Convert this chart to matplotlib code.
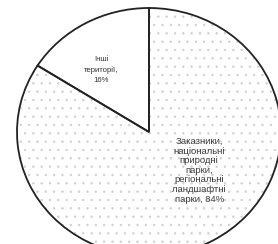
import matplotlib.pyplot as plt

# share of territories, %
labels = ['Інші\nтериторії,\n16%',
          'Заказники,\nнаціональні\nприродні\nпарки,\nрегіональні\nландшафтні\nпарки, 84%']
shares = [16, 84]
hatches = ['', '..']

plt.rcParams['font.family'] = ['Liberation Sans', 'DejaVu Sans']
plt.rcParams['hatch.linewidth'] = 0.5

fig = plt.figure(figsize=(2.78, 2.44), dpi=100)
# pie is cropped by the figure on the right and bottom
ax = fig.add_axes([17 / 278, -12 / 244, 264 / 278, 248 / 244])

wedges, _ = ax.pie(shares, startangle=90, counterclock=True,
                   colors=['white', 'white'],
                   wedgeprops=dict(edgecolor='#d0d0d0', linewidth=0))
for w, h in zip(wedges, hatches):
    w.set_hatch(h)

# black outlines on top
ax.pie(shares, startangle=90, counterclock=True, colors=['none', 'none'],
       wedgeprops=dict(edgecolor='#222222', linewidth=1.3))

ax.set_aspect('auto')
ax.set_xlim(-1, 1)
ax.set_ylim(-1, 1)

ax.text(-0.36, 0.5, labels[0], ha='center', va='center', fontsize=5.6,
        linespacing=1.5, color='#333333')
ax.text(0.38, -0.31, labels[1], ha='center', va='center', fontsize=6.8,
        linespacing=1.08, color='#3a3a3a')

fig.savefig('out.png', dpi=100)
